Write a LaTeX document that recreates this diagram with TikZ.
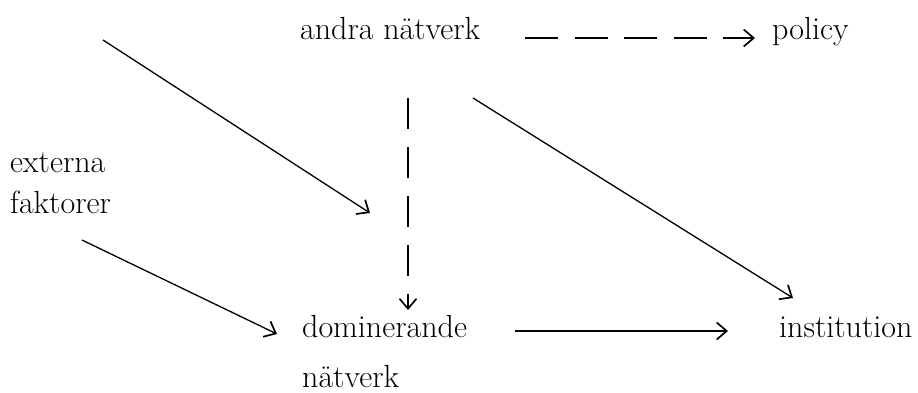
\documentclass[tikz,border=0pt]{standalone}
\usetikzlibrary{arrows.meta}
\begin{document}
\begin{tikzpicture}[x=1pt,y=-1pt,
  lbl/.style={inner sep=0pt, anchor=base west, font=\fontsize{32}{38}\selectfont},
  tip/.style={-{Straight Barb[length=10pt,width=17pt,line width'=1.7pt]}},
  conn/.style={tip, line width=1.3pt},
  dconn/.style={tip, line width=2.8pt, dash pattern=on 31pt off 18pt}]
\useasboundingbox (0,0) rectangle (918,392);
% labels
\node[lbl] (andra) at (300,39) {andra nätverk};
\node[lbl] (policy) at (772,39) {policy};
\node[lbl] (ext1) at (10,172) {externa};
\node[lbl] (ext2) at (10,213) {faktorer};
\node[lbl] (dom1) at (302,337) {dominerande};
\node[lbl] (dom2) at (302,387) {nätverk};
\node[lbl] (inst) at (779,337) {institution};
% connector end points
\coordinate (a1s) at (103,40);  \coordinate (a1e) at (370,213);
\coordinate (a2s) at (82,240);  \coordinate (a2e) at (277,334);
\coordinate (v1s) at (408,98);  \coordinate (v1e) at (408,310);
\coordinate (h1s) at (525,38);  \coordinate (h1e) at (755,38);
\coordinate (d1s) at (473,98);  \coordinate (d1e) at (793,298);
\coordinate (b1s) at (515,331); \coordinate (b1e) at (728,331);
% connectors
\draw[conn] (a1s) -- (a1e);
\draw[conn] (a2s) -- (a2e);
\draw[dconn] (v1s) -- (v1e);
\draw[dconn, dash pattern=on 33pt off 16.5pt] (h1s) -- (h1e);
\draw[conn] (d1s) -- (d1e);
\draw[conn] (b1s) -- (b1e);
\end{tikzpicture}
\end{document}
